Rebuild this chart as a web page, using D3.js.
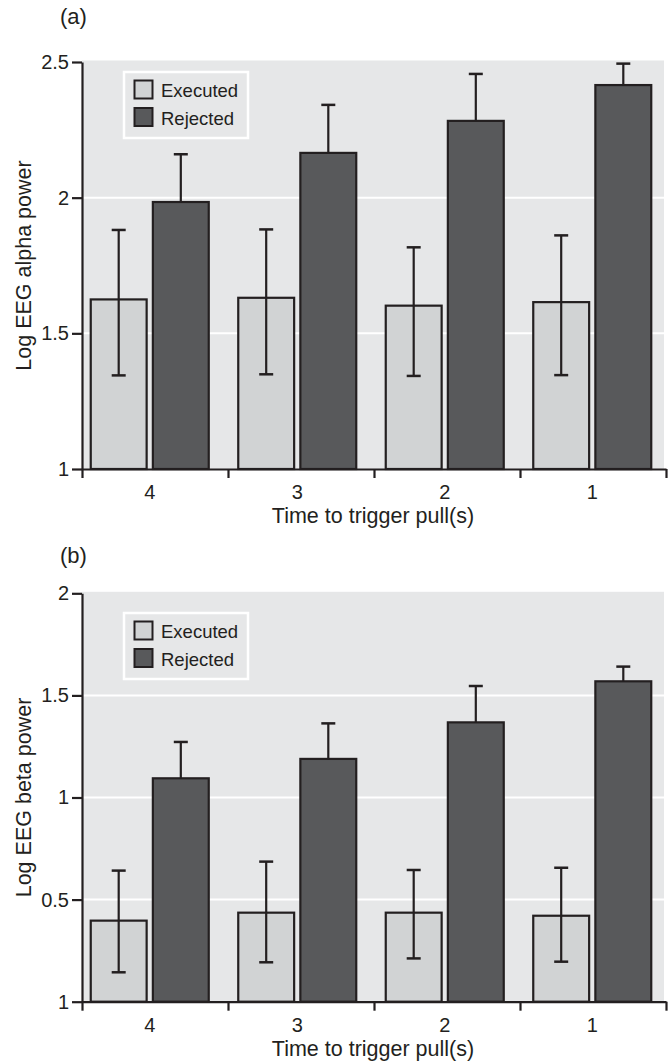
<!DOCTYPE html>
<html>
<head>
<meta charset="utf-8">
<script src="https://cdn.jsdelivr.net/npm/d3@7"></script>
<style>
  body { margin: 0; background: #ffffff; }
  svg { display: block; font-family: 'Liberation Sans', Arial, Helvetica, sans-serif; }
</style>
</head>
<body>
<div id="container"></div>
<script>
// data
const times = ['4', '3', '2', '1'];
const groups = ['Executed', 'Rejected'];

const alphaExecuted = [1.625, 1.631, 1.602, 1.615];
const alphaExecutedLow = [1.345, 1.349, 1.343, 1.346];
const alphaExecutedHigh = [1.881, 1.883, 1.817, 1.861];
const alphaRejected = [1.984, 2.165, 2.283, 2.415];
const alphaRejectedHigh = [2.160, 2.342, 2.456, 2.494];
const alphaTicks = [1, 1.5, 2, 2.5];
const alphaTickLabels = ['1', '1.5', '2', '2.5'];
const alphaGrid = [1.5, 2];

const betaExecuted = [0.397, 0.436, 0.436, 0.421];
const betaExecutedLow = [0.144, 0.193, 0.212, 0.196];
const betaExecutedHigh = [0.642, 0.686, 0.645, 0.656];
const betaRejected = [1.094, 1.189, 1.368, 1.569];
const betaRejectedHigh = [1.272, 1.363, 1.546, 1.641];
const betaTicks = [0, 0.5, 1, 1.5, 2];
const betaTickLabels = ['1', '0.5', '1', '1.5', '2'];
const betaGrid = [0.5, 1, 1.5];

const colors = { Executed: '#d1d3d4', Rejected: '#58595b' };
const ink = '#231f20';
const bg = '#e6e7e8';

const svg = d3.select('#container')
    .append('svg')
    .attr('width', 670)
    .attr('height', 1063);

const x0 = d3.scaleBand()
    .domain(times)
    .range([76, 666])
    .paddingInner(0.2)
    .paddingOuter(0.1);
const x1 = d3.scaleBand()
    .domain(groups)
    .range([0, x0.bandwidth()])
    .paddingInner(0.1);
// boundaries between the groups, for the tick marks
const xb = d3.scaleLinear().domain([0, times.length]).range([82, 666]);

function drawPanel(p) {
    const y = d3.scaleLinear().domain(p.domain).range(p.range);
    const g = svg.append('g');

    // plot background
    g.append('rect')
        .attr('x', 82)
        .attr('y', p.range[1] - 1.5)
        .attr('width', 664 - 82)
        .attr('height', p.range[0] - p.range[1] + 1.5)
        .attr('fill', bg);

    // white grid lines
    g.selectAll('.grid')
        .data(p.grid)
        .join('line')
        .attr('x1', 82)
        .attr('x2', 664)
        .attr('y1', d => y(d))
        .attr('y2', d => y(d))
        .attr('stroke', '#ffffff')
        .attr('stroke-width', 2);

    // legend
    const leg = g.append('g').attr('transform', `translate(123, ${p.legendY})`);
    leg.append('rect')
        .attr('x', 1)
        .attr('y', 1)
        .attr('width', 124)
        .attr('height', 66)
        .attr('fill', bg)
        .attr('stroke', '#ffffff')
        .attr('stroke-width', 2.5);
    groups.forEach((name, i) => {
        leg.append('rect')
            .attr('x', 11.5)
            .attr('y', 9.5 + 27.5 * i)
            .attr('width', 18)
            .attr('height', 18)
            .attr('fill', colors[name])
            .attr('stroke', ink)
            .attr('stroke-width', 2);
        leg.append('text')
            .text(name)
            .attr('x', 38)
            .attr('y', 26 + 27.5 * i)
            .style('font-size', '18.5px')
            .style('fill', ink);
    });

    // bars
    const rows = times.map((t, i) => ({
        t,
        bars: [
            { name: 'Executed', v: p.executed[i], lo: p.executedLow[i], hi: p.executedHigh[i] },
            { name: 'Rejected', v: p.rejected[i], lo: p.rejected[i], hi: p.rejectedHigh[i] }
        ]
    }));
    const grp = g.selectAll('.grp')
        .data(rows)
        .join('g')
        .attr('transform', d => `translate(${x0(d.t)}, 0)`);
    grp.selectAll('rect')
        .data(d => d.bars)
        .join('rect')
        .attr('x', d => x1(d.name))
        .attr('y', d => y(d.v))
        .attr('width', x1.bandwidth())
        .attr('height', d => y(p.domain[0]) - y(d.v))
        .attr('fill', d => colors[d.name])
        .attr('stroke', ink)
        .attr('stroke-width', 2.2);

    // error bars
    const eb = grp.selectAll('.eb')
        .data(d => d.bars)
        .join('g')
        .attr('transform', d => `translate(${x1(d.name) + x1.bandwidth() / 2}, 0)`);
    eb.append('line')
        .attr('y1', d => y(d.lo))
        .attr('y2', d => y(d.hi))
        .attr('stroke', ink)
        .attr('stroke-width', 2.2);
    eb.append('line')
        .attr('x1', -7).attr('x2', 7)
        .attr('y1', d => y(d.hi))
        .attr('y2', d => y(d.hi))
        .attr('stroke', ink)
        .attr('stroke-width', 2.5);
    eb.filter(d => d.name === 'Executed')
        .append('line')
        .attr('x1', -7).attr('x2', 7)
        .attr('y1', d => y(d.lo))
        .attr('y2', d => y(d.lo))
        .attr('stroke', ink)
        .attr('stroke-width', 2.5);

    // y axis
    const yAxis = g.append('g')
        .attr('transform', 'translate(82, 0)')
        .call(d3.axisLeft(y)
            .tickValues(p.ticks)
            .tickFormat((d, i) => p.tickLabels[i])
            .tickSize(10)
            .tickSizeOuter(0)
            .tickPadding(3));
    // x axis: tick marks between groups
    const xAxis = g.append('g')
        .attr('transform', `translate(0, ${p.range[0]})`)
        .call(d3.axisBottom(xb)
            .tickValues(d3.range(times.length + 1))
            .tickFormat('')
            .tickSize(9)
            .tickSizeOuter(0));
    // x labels at group centres
    const xLab = g.append('g')
        .attr('transform', `translate(0, ${p.range[0]})`)
        .call(d3.axisBottom(x0).tickSize(0).tickPadding(11));
    xLab.select('.domain').remove();

    [yAxis, xAxis, xLab].forEach(a => {
        a.selectAll('.domain, .tick line')
            .attr('stroke', ink)
            .attr('stroke-width', 2.2);
        a.selectAll('text')
            .attr('fill', ink)
            .style('font-size', '20px')
            .attr('font-family', null);
    });
    xLab.selectAll('text').attr('dy', '0.95em');

    // titles
    g.append('text')
        .text('Time to trigger pull(s)')
        .attr('x', 373)
        .attr('y', p.range[0] + 54)
        .attr('text-anchor', 'middle')
        .style('font-size', '21.5px')
        .style('fill', ink);
    g.append('text')
        .text(p.yTitle)
        .attr('transform', `translate(31, ${(p.range[0] + p.range[1]) / 2}) rotate(-90)`)
        .attr('text-anchor', 'middle')
        .style('font-size', '21.5px')
        .style('fill', ink);
    g.append('text')
        .text(p.letter)
        .attr('x', 60)
        .attr('y', p.letterY)
        .style('font-size', '22px')
        .style('fill', ink);
}

drawPanel({
    domain: [1, 2.5], range: [469, 62],
    executed: alphaExecuted, executedLow: alphaExecutedLow, executedHigh: alphaExecutedHigh,
    rejected: alphaRejected, rejectedHigh: alphaRejectedHigh,
    ticks: alphaTicks, tickLabels: alphaTickLabels, grid: alphaGrid,
    yTitle: 'Log EEG alpha power', letter: '(a)', letterY: 24, legendY: 71
});

drawPanel({
    domain: [0, 2], range: [1001.7, 593.3],
    executed: betaExecuted, executedLow: betaExecutedLow, executedHigh: betaExecutedHigh,
    rejected: betaRejected, rejectedHigh: betaRejectedHigh,
    ticks: betaTicks, tickLabels: betaTickLabels, grid: betaGrid,
    yTitle: 'Log EEG beta power', letter: '(b)', letterY: 563, legendY: 612
});
</script>
</body>
</html>
